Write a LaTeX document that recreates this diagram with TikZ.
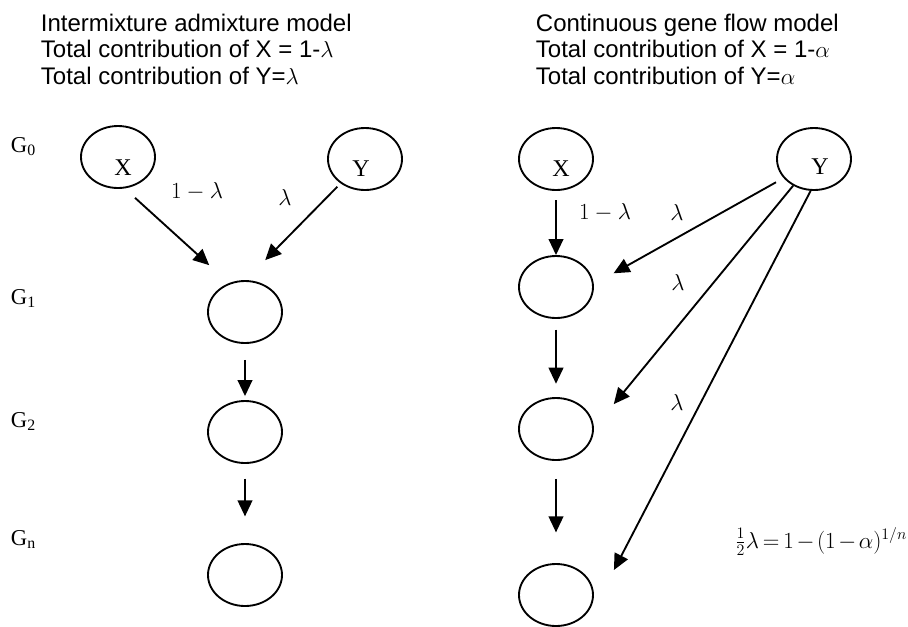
\documentclass[tikz,border=0pt]{standalone}
\usepackage{amsmath}
\usepackage{fontspec}
\setmainfont{Liberation Serif}
\newfontfamily\headfont{Liberation Sans}
\usetikzlibrary{arrows.meta,shapes.geometric,calc}

\tikzset{every picture/.style={line width=1.4pt}}

\begin{document}
\begin{tikzpicture}[x=0.75pt,y=0.75pt,yscale=-1,xscale=1,
  pop/.style={draw, ellipse, minimum width=55.5pt, minimum height=46.5pt, inner sep=0pt},
  conn/.style={-{Triangle[length=12pt,width=11pt]}},
  lett/.style={font=\fontsize{18}{21}\selectfont, inner sep=0pt},
  gen/.style={font=\fontsize{17}{20}\selectfont, anchor=base west, inner sep=0pt},
  rate/.style={font=\fontsize{17}{20}\selectfont, inner sep=0pt},
  head/.style={font=\headfont\fontsize{18}{20}\selectfont, align=left, anchor=north west, inner sep=0pt}]
	\useasboundingbox (0,0) rectangle (908,626);
	
	%Titles
	\node[head] (ltitle) at (40,13) {Intermixture admixture model\\Total contribution of X = 1-$\lambda$\\Total contribution of Y=$\lambda$};
	\node[head] (rtitle) at (535,13) {Continuous gene flow model\\Total contribution of X = 1-$\alpha$\\Total contribution of Y=$\alpha$};
	
	%Generations
	\node[gen] (g0) at (10,152) {G\textsubscript{0}};
	\node[gen] (g1) at (10,304) {G\textsubscript{1}};
	\node[gen] (g2) at (10,427) {G\textsubscript{2}};
	\node[gen] (gn) at (10,545) {G\textsubscript{n}};
	
	%Intermixture model
	\node[pop] (lX) at (118,157) {};
	\node[pop] (lY) at (365,159) {};
	\node[pop] (lG1) at (245,312) {};
	\node[pop] (lG2) at (245,432) {};
	\node[pop] (lGn) at (245,575) {};
	\node[lett] (lXt) at ($(lX)+(5,11)$) {X};
	\node[lett] (lYt) at ($(lY)+(-4,10)$) {Y};
	
	\draw[conn, shorten <=10.5pt, shorten >=20pt] (lX.-78) -- (lG1.119);
	\draw[conn, shorten <=3.5pt, shorten >=21pt] (lY.225) -- (lG1.89);
	\draw[conn, shorten <=12pt, shorten >=3pt] (lG1) -- (lG2);
	\draw[conn, shorten <=11pt, shorten >=20pt] (lG2) -- (lGn);
	
	\node[rate] (l1) at (197,191) {$1-\lambda$};
	\node[rate] (l2) at (285,197) {$\lambda$};
	
	%Gene flow model
	\node[pop] (rX) at (556,159) {};
	\node[pop] (rY) at (814,159) {};
	\node[pop] (rG1) at (556,287) {};
	\node[pop] (rG2) at (556,429) {};
	\node[pop] (rGn) at (556,595) {};
	\node[lett] (rXt) at ($(rX)+(5,10)$) {X};
	\node[lett] (rYt) at ($(rY)+(6,8)$) {Y};
	
	\draw[conn, shorten <=7pt] (rX) -- (rG1);
	\draw[conn, shorten <=8pt, shorten >=10pt] (rG1) -- (rG2);
	\draw[conn, shorten <=13.5pt, shorten >=23pt] (rG2) -- (rGn);
	\draw[conn, shorten <=6.5pt, shorten >=17pt] (rY.212) -- (rG1.4);
	\draw[conn, shorten >=23.5pt] (rY.232) -- (rG2.1);
	\draw[conn] (rY.264) -- ($(rGn.east)+(20,-25)$);
	
	\node[rate] (r1) at (605,212) {$1-\lambda$};
	\node[rate] (r2) at (677,212) {$\lambda$};
	\node[rate] (r3) at (678,282) {$\lambda$};
	\node[rate] (r4) at (677,402) {$\lambda$};
	\node[rate, anchor=base west] (rel) at (734,548) {\fontsize{18}{21}\selectfont$\medmuskip=2mu\relax\thickmuskip=3mu\relax\tfrac{1}{2}\lambda=1-(1-\alpha)^{1/n}$};
	
\end{tikzpicture}
\end{document}
